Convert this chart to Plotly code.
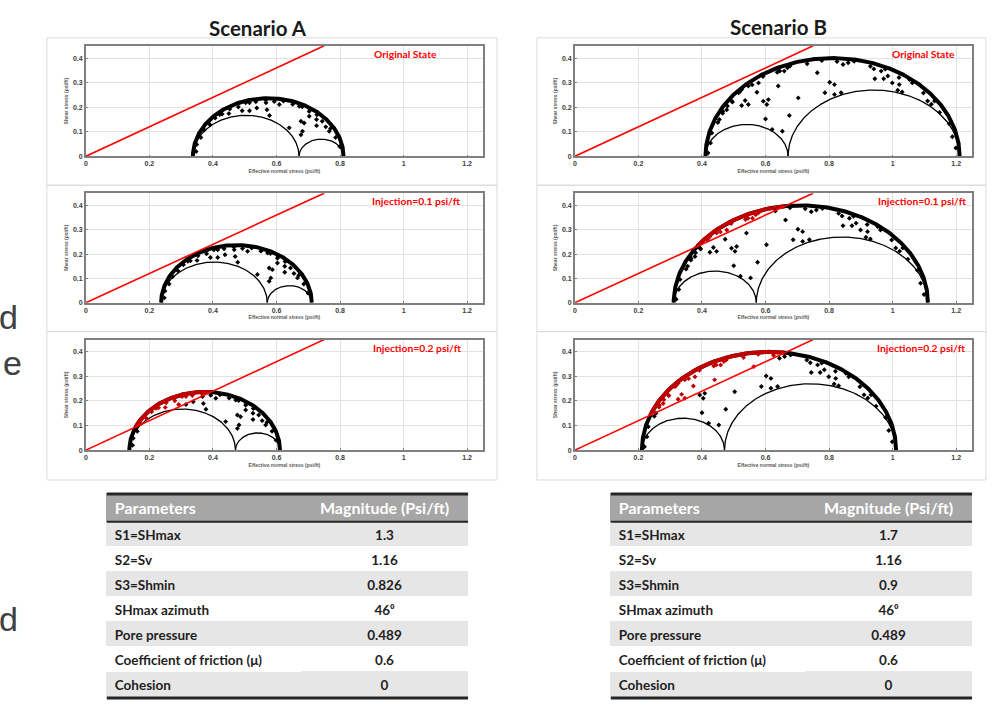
import numpy as np
import plotly.graph_objects as go

W, H = 997, 719

# ---------------- data ----------------
param_names = ["S1=SHmax", "S2=Sv", "S3=Shmin", "SHmax azimuth", "Pore pressure",
               "Coefficient of friction (μ)", "Cohesion"]
magnitude_A = ["1.3", "1.16", "0.826", "46⁰", "0.489", "0.6", "0"]
magnitude_B = ["1.7", "1.16", "0.9", "46⁰", "0.489", "0.6", "0"]

S1_A, S3_A = 1.3, 0.826
S1_B, S3_B = 1.7, 0.9
S2 = 1.16
PORE = 0.489
MU = 0.6
injections = [0.0, 0.1, 0.2]
state_labels = ["Original State", "Injection=0.1 psi/ft", "Injection=0.2 psi/ft"]
scenario_titles = ["Scenario A", "Scenario B"]

x_ticks = [0, 0.2, 0.4, 0.6, 0.8, 1.0, 1.2]
x_ticktext = ["0", "0.2", "0.4", "0.6", "0.8", "1", "1.2"]
y_ticks = [0, 0.1, 0.2, 0.3, 0.4]
y_ticktext = ["0", "0.1", "0.2", "0.3", "0.4"]

# fault planes (effective normal stress, shear stress) in the original state
faults_A_sigma = [0.484, 0.515, 0.538, 0.567, 0.570, 0.515, 0.492, 0.450, 0.421, 0.578, 0.640, 0.677,
                  0.687, 0.682, 0.677, 0.703, 0.726, 0.726, 0.766, 0.755, 0.730, 0.705, 0.672, 0.609,
                  0.799, 0.786, 0.770, 0.744, 0.727, 0.703, 0.681, 0.651, 0.622, 0.593, 0.566, 0.535,
                  0.503, 0.480, 0.453, 0.429, 0.407, 0.391, 0.373, 0.362, 0.349, 0.347]
faults_A_tau = [0.218, 0.218, 0.197, 0.218, 0.190, 0.186, 0.186, 0.174, 0.170, 0.166, 0.116, 0.143,
                0.136, 0.102, 0.088, 0.163, 0.150, 0.125, 0.102, 0.120, 0.172, 0.190, 0.204, 0.211,
                0.040, 0.077, 0.113, 0.143, 0.169, 0.183, 0.202, 0.212, 0.225, 0.223, 0.229, 0.222,
                0.218, 0.201, 0.193, 0.172, 0.156, 0.129, 0.107, 0.077, 0.048, 0.020]

faults_B_sigma = [0.645, 0.659, 0.640, 0.669, 0.578, 0.546, 0.525, 0.573, 0.536, 0.515, 0.494, 0.480,
                  0.478, 0.465, 0.455, 0.593, 0.604, 0.609, 0.546, 0.525, 0.600, 0.640, 0.621, 0.653,
                  0.675, 0.703, 0.763, 0.802, 0.787, 0.817, 0.817, 0.838, 0.844, 0.860, 0.941, 0.964,
                  0.972, 0.944, 0.985, 0.999, 1.021, 1.016, 1.030, 1.053, 1.110, 1.122,
                  1.199, 1.188, 1.178, 1.148, 1.132, 1.097, 1.062, 1.020, 0.977, 0.930, 0.879, 0.825,
                  0.777, 0.731, 0.677, 0.637, 0.592, 0.558, 0.519, 0.496, 0.466, 0.450, 0.431, 0.427,
                  0.419]
faults_B_tau = [0.347, 0.347, 0.355, 0.361, 0.299, 0.286, 0.272, 0.261, 0.227, 0.259, 0.224, 0.205,
                0.190, 0.175, 0.150, 0.224, 0.211, 0.231, 0.211, 0.207, 0.152, 0.286, 0.109, 0.102,
                0.166, 0.238, 0.340, 0.302, 0.259, 0.292, 0.252, 0.259, 0.374, 0.381, 0.356, 0.347,
                0.316, 0.316, 0.327, 0.299, 0.292, 0.269, 0.262, 0.313, 0.225, 0.212,
                0.034, 0.080, 0.133, 0.179, 0.225, 0.258, 0.299, 0.321, 0.355, 0.367, 0.387, 0.386,
                0.390, 0.377, 0.368, 0.342, 0.325, 0.291, 0.263, 0.221, 0.183, 0.138, 0.095, 0.054,
                0.014]

scen_S1 = [S1_A, S1_B]
scen_S3 = [S3_A, S3_B]
scen_faults = [(faults_A_sigma, faults_A_tau), (faults_B_sigma, faults_B_tau)]

# ---------------- layout geometry (pixels) ----------------
col_px = [(84, 482), (574, 972)]
row_px = [(46, 157), (194, 304), (341, 452)]
label_left_px = [[371, 369, 370], [890, 876, 875]]
box_col_px = [(45, 496), (536, 986)]
box_row_px = [(38, 186), (186, 333), (333, 482)]


def px(x):
    return x / W


def py(y):
    return 1 - y / H


fig = go.Figure()
theta = np.linspace(0, np.pi, 361)

for ci in range(2):
    for ri in range(3):
        k = ri * 2 + ci + 1
        xa = "x" if k == 1 else f"x{k}"
        ya = "y" if k == 1 else f"y{k}"
        dp = injections[ri]
        s1 = scen_S1[ci] - PORE - dp
        s2 = S2 - PORE - dp
        s3 = scen_S3[ci] - PORE - dp

        # small Mohr circles
        for a, b in [(s3, s2), (s2, s1)]:
            c, r = (a + b) / 2, (b - a) / 2
            fig.add_trace(go.Scatter(x=c + r * np.cos(theta), y=r * np.sin(theta), mode="lines",
                                     line=dict(color="black", width=1.3), xaxis=xa, yaxis=ya,
                                     showlegend=False, hoverinfo="skip"))
        # big Mohr circle (dense band)
        c, r = (s1 + s3) / 2, (s1 - s3) / 2
        bx, by = c + r * np.cos(theta), r * np.sin(theta)
        fig.add_trace(go.Scatter(x=bx, y=by, mode="lines", line=dict(color="black", width=4),
                                 xaxis=xa, yaxis=ya, showlegend=False, hoverinfo="skip"))
        crit = by > MU * bx + 1e-4
        if crit.any():
            rx = np.where(crit, bx, np.nan)
            ry = np.where(crit, by, np.nan)
            fig.add_trace(go.Scatter(x=rx, y=ry, mode="lines", line=dict(color="#c00000", width=4),
                                     xaxis=xa, yaxis=ya, showlegend=False, hoverinfo="skip",
                                     connectgaps=False))

        fs = np.array(scen_faults[ci][0]) - dp
        ft = np.array(scen_faults[ci][1])
        red = ft > MU * fs
        fig.add_trace(go.Scatter(x=fs[~red], y=ft[~red], mode="markers",
                                 marker=dict(symbol="diamond", size=3.8, color="black"),
                                 xaxis=xa, yaxis=ya, showlegend=False, hoverinfo="skip"))
        if red.any():
            fig.add_trace(go.Scatter(x=fs[red], y=ft[red], mode="markers",
                                     marker=dict(symbol="diamond", size=3.8, color="#c00000"),
                                     xaxis=xa, yaxis=ya, showlegend=False, hoverinfo="skip"))
        # friction line
        fig.add_trace(go.Scatter(x=[0, 0.45 / MU], y=[0, 0.45], mode="lines",
                                 line=dict(color="#ff0000", width=1.6), xaxis=xa, yaxis=ya,
                                 showlegend=False, hoverinfo="skip"))

        x0, x1 = col_px[ci]
        yt, yb = row_px[ri]
        axkw = dict(showline=True, mirror=True, linecolor="#808080", linewidth=1.5,
                    showgrid=True, gridcolor="#e2e2e2", gridwidth=1, zeroline=False,
                    ticks="inside", ticklen=2, tickcolor="#808080",
                    tickfont=dict(family="Liberation Sans", size=7, color="#404040", weight="bold"))
        fig.layout[f"xaxis{'' if k == 1 else k}"] = dict(
            domain=[px(x0), px(x1)], anchor=ya, range=[0, 1.25],
            tickvals=x_ticks, ticktext=x_ticktext,
            title=dict(text="Effective normal stress (psi/ft)", standoff=3,
                       font=dict(family="Liberation Sans", size=5, color="#595959", weight="bold")),
            **axkw)
        fig.layout[f"yaxis{'' if k == 1 else k}"] = dict(
            domain=[py(yb), py(yt)], anchor=xa, range=[0, 0.45],
            tickvals=y_ticks, ticktext=y_ticktext,
            title=dict(text="Shear stress (psi/ft)", standoff=4,
                       font=dict(family="Liberation Sans", size=5, color="#595959", weight="bold")),
            **axkw)
        fig.add_annotation(text=state_labels[ri], xref="paper", yref="paper",
                           x=px(label_left_px[ci][ri]), y=py(yt + 8), xanchor="left", yanchor="middle",
                           showarrow=False,
                           font=dict(family="Lato", size=10.3, color="#ff0000", weight="bold"))

# outer chart boxes
for ci in range(2):
    for ri in range(3):
        fig.add_shape(type="rect", xref="paper", yref="paper",
                      x0=px(box_col_px[ci][0]), x1=px(box_col_px[ci][1]),
                      y0=py(box_row_px[ri][1]), y1=py(box_row_px[ri][0]),
                      line=dict(color="#dcdcdc", width=1), layer="below")

# scenario titles
for ci, (cx, cy) in enumerate([(257, 28), (778, 27)]):
    fig.add_annotation(text=scenario_titles[ci], xref="paper", yref="paper", x=px(cx), y=py(cy),
                       xanchor="center", yanchor="middle", showarrow=False,
                       font=dict(family="Lato", size=20.5, color="#1a1a1a", weight="bold"))

# tables
row_fill = ["#e7e6e6" if i % 2 == 0 else "#ffffff" for i in range(len(param_names))]
for (tx0, tx1), mags in [((105, 467), magnitude_A), ((610, 972), magnitude_B)]:
    fig.add_trace(go.Table(
        domain=dict(x=[px(tx0), px(tx1)], y=[py(702), py(496)]),
        columnwidth=[195, 167],
        header=dict(values=["Parameters", "Magnitude (Psi/ft)"], align=["left", "center"],
                    fill_color="#a6a6a6", line=dict(color="#a6a6a6", width=1), height=28,
                    font=dict(family="Lato", size=16, color="white", weight="bold")),
        cells=dict(values=[param_names, mags], align=["left", "center"],
                   fill_color=[row_fill, row_fill], line=dict(color=[row_fill, row_fill], width=1),
                   height=25, font=dict(family="Lato", size=13.5, color="#1f1f1f", weight="bold"))))
    for yy, lw in [(496, 3), (524, 2), (701, 3)]:
        fig.add_shape(type="line", xref="paper", yref="paper", x0=px(tx0), x1=px(tx1),
                      y0=py(yy), y1=py(yy), line=dict(color="#262626", width=lw))

# cut-off text at the left edge
for txt, xx, yy in [("d", 18, 318), ("e", 22, 365), ("d", 18, 622)]:
    fig.add_annotation(text=txt, xref="paper", yref="paper", x=px(xx), y=py(yy), xanchor="right",
                       yanchor="middle", showarrow=False,
                       font=dict(family="Liberation Sans", size=34, color="#404040"))

fig.update_layout(width=W, height=H, autosize=False, margin=dict(l=0, r=0, t=0, b=0),
                  paper_bgcolor="white", plot_bgcolor="white", showlegend=False)
fig.write_html("out.html", config={"displayModeBar": False},
               post_script="document.body.style.margin='0';document.body.style.overflow='hidden';")
